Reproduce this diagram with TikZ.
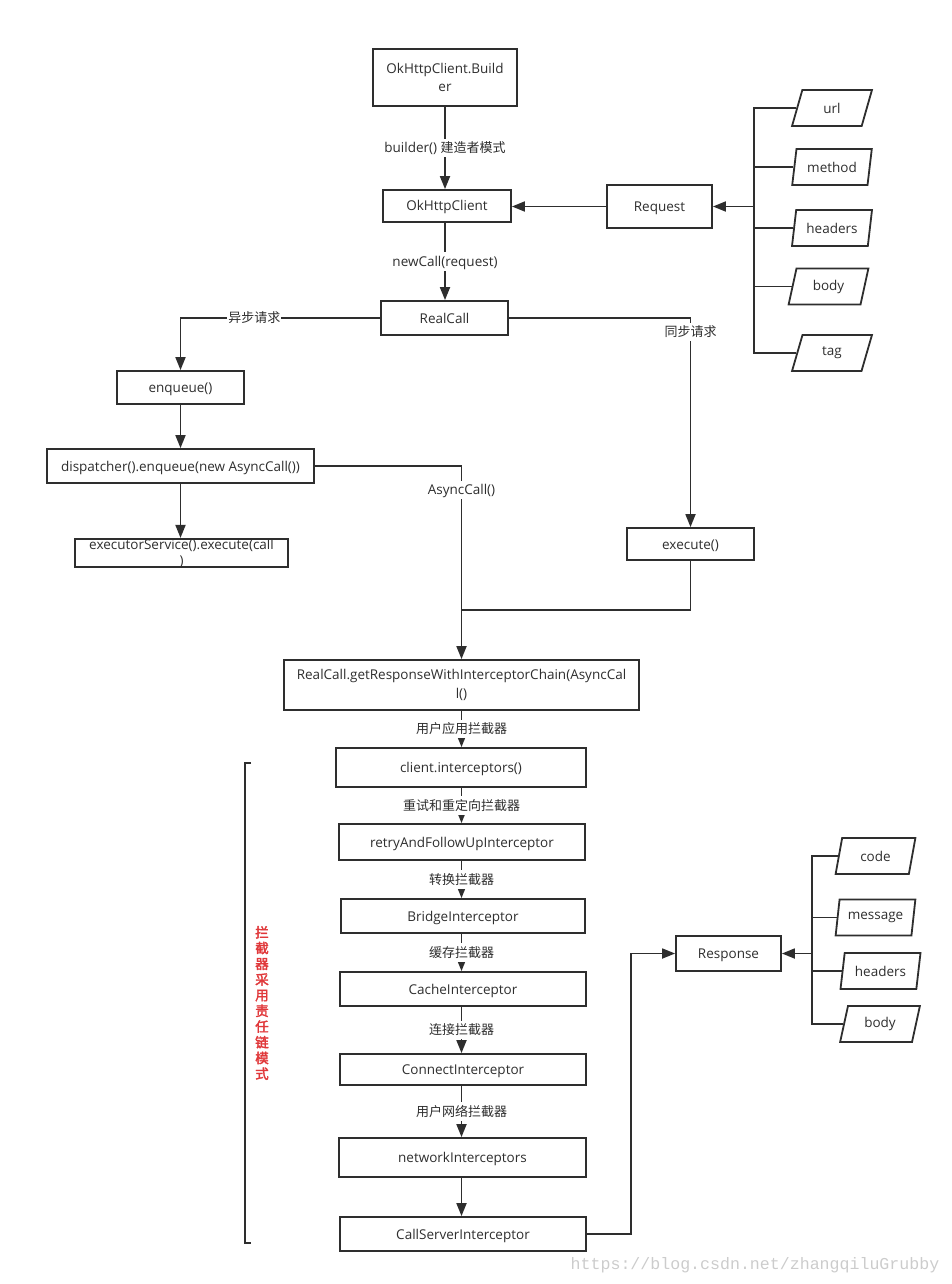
\documentclass[tikz,border=0pt]{standalone}
\usepackage{fontspec}
\setmainfont{Open Sans}
\newfontfamily\cjkfam{Noto Sans CJK SC}
\newfontfamily\cjkbold[FakeBold=2.5]{Noto Sans CJK SC}
\newfontfamily\wmfont{Liberation Mono}
\newcommand\zhs[1]{{\cjkfam\fontsize{13}{15}\selectfont #1}}
\usetikzlibrary{arrows.meta,shapes.geometric}
\definecolor{ink}{HTML}{2E2E2E}
\definecolor{redt}{HTML}{E0383A}
\begin{document}
\begin{tikzpicture}[x=1pt,y=-1pt,
 mbox/.style={draw=ink,line width=1.8pt,inner sep=0pt,align=center,text=ink,font=\fontsize{13.5}{18}\selectfont},
 box/.style={mbox,text height=13.5pt,text depth=3.5pt},
 par/.style={draw=ink,line width=1.8pt,shape=trapezium,trapezium left angle=74,trapezium right angle=106,trapezium stretches=true,minimum width=80pt,minimum height=36pt,inner sep=0pt,text=ink,font=\fontsize{13.5}{15}\selectfont},
 arr/.style={draw=ink,line width=1.8pt,-{Triangle[length=13pt,width=10pt]}},
 ln/.style={draw=ink,line width=1.8pt},
 pln/.style={draw=ink,line width=1.6pt},
 lbl/.style={fill=white,inner sep=1pt,text=ink,text height=13pt,text depth=3.5pt,font=\fontsize{13.5}{15}\selectfont},
]
\useasboundingbox (0,0) rectangle (951,1284);
% main boxes
\node[mbox,minimum width=144pt,minimum height=57pt] (builder) at (445,77.5) {OkHttpClient.Build\\er};
\node[box,minimum width=128pt,minimum height=32pt] (client) at (447,206) {OkHttpClient};
\node[box,minimum width=105pt,minimum height=43pt] (request) at (659.5,206.5) {Request};
\node[box,minimum width=127pt,minimum height=34pt] (realcall) at (444.5,318) {RealCall};
\node[box,minimum width=127pt,minimum height=33pt] (enqueue) at (180.5,387.5) {enqueue()};
\node[box,minimum width=267pt,minimum height=34pt] (dispatcher) at (180.5,466) {dispatcher().enqueue(new AsyncCall())};
\node[mbox,minimum width=213pt,minimum height=28pt,font=\fontsize{13.5}{16}\selectfont] (executor) at (181.5,553) {executorService().execute(call\\)};
\node[box,minimum width=127pt,minimum height=32pt] (execute) at (690.5,544) {execute()};
\node[mbox,minimum width=355pt,minimum height=50pt,font=\fontsize{13.5}{19}\selectfont] (chain) at (461.5,685) {RealCall.getResponseWithInterceptorChain(AsyncCal\\l()};
\node[box,minimum width=250pt,minimum height=39pt] (ci) at (461,767.5) {client.interceptors()};
\node[box,minimum width=246pt,minimum height=36pt] (retry) at (462,842) {retryAndFollowUpInterceptor};
\node[box,minimum width=244pt,minimum height=34pt] (bridge) at (463,916) {BridgeInterceptor};
\node[box,minimum width=246pt,minimum height=34pt] (cache) at (463,989) {CacheInterceptor};
\node[box,minimum width=246pt,minimum height=31pt] (connect) at (463,1069.5) {ConnectInterceptor};
\node[box,minimum width=247pt,minimum height=39pt] (network) at (462.5,1157.5) {networkInterceptors};
\node[box,minimum width=246pt,minimum height=34pt] (callserver) at (463,1234) {CallServerInterceptor};
\node[box,minimum width=105pt,minimum height=35pt] (response) at (728.5,953.5) {Response};
% request params
\node[par] (url) at (832,108) {url};
\node[par] (method) at (832,167) {method};
\node[par] (rheaders) at (832,228) {headers};
\node[par] (rbody) at (828.5,286.5) {body};
\node[par] (tag) at (832,353) {tag};
% response params
\node[par] (code) at (875.5,856) {code};
\node[par] (message) at (875.5,917.5) {message};
\node[par] (sheaders) at (880.5,971) {headers};
\node[par] (sbody) at (880,1024) {body};
% helper coordinates
\coordinate (rbus) at (754,206.5);
\coordinate (sbus) at (812,953.5);
\coordinate (jn) at (461.5,610);
\coordinate (rturn) at (631,953.5);
% connectors top
\draw[arr] (builder.south) -- node[lbl]{builder() \zhs{建造者模式}} (builder.south |- client.north);
\draw[arr] (request.west) -- (request.west -| client.east);
\draw[arr] (rbus) -- (request.east);
\foreach \p in {url,method,rheaders,rbody,tag}{\draw[pln] (\p.west) -| (rbus);}
\draw[arr] (builder.south |- client.south) -- node[lbl]{newCall(request)} (builder.south |- realcall.north);
\draw[arr] (realcall.west) -| node[lbl,pos=0.315]{\zhs{异步请求}} (enqueue.north);
\draw[arr] (realcall.east) -| node[lbl,pos=0.533]{\zhs{同步请求}} (execute.north);
\draw[arr] (enqueue.south) -- (enqueue.south |- dispatcher.north);
\draw[arr] (dispatcher.south) -- (dispatcher.south |- executor.north);
\draw[arr] (dispatcher.east) -| node[lbl,pos=0.562]{AsyncCall()} (chain.north);
\draw[ln] (execute.south) |- (jn);
% chain
\draw[arr] (chain.south) -- node[lbl]{\zhs{用户应用拦截器}} (chain.south |- ci.north);
\draw[arr] (chain.south |- ci.south) -- node[lbl]{\zhs{重试和重定向拦截器}} (chain.south |- retry.north);
\draw[arr] (chain.south |- retry.south) -- node[lbl]{\zhs{转换拦截器}} (chain.south |- bridge.north);
\draw[arr] (chain.south |- bridge.south) -- node[lbl]{\zhs{缓存拦截器}} (chain.south |- cache.north);
\draw[arr] (chain.south |- cache.south) -- node[lbl]{\zhs{连接拦截器}} (chain.south |- connect.north);
\draw[arr] (chain.south |- connect.south) -- node[lbl]{\zhs{用户网络拦截器}} (chain.south |- network.north);
\draw[arr] (chain.south |- network.south) -- (chain.south |- callserver.north);
% response
\draw[arr] (callserver.east) -| (rturn) -- (response.west);
\draw[arr] (sbus) -- (response.east);
\foreach \p in {code,message,sheaders,sbody}{\draw[pln] (\p.west) -| (sbus);}
% bracket
\draw[ln] (251,763) -- (245,763) -- (245,1243) -- (251,1243);
\node[text=redt,align=center,inner sep=0pt,font=\cjkbold\fontsize{13.5}{15.7}\selectfont] (brnote) at (262,1003) {拦\\截\\器\\采\\用\\责\\任\\链\\模\\式};
% watermark
\node[text=black!20,inner sep=0pt,font=\wmfont\fontsize{16.6}{18}\selectfont] (wm) at (755,1265) {https://blog.csdn.net/zhangqiluGrubby};
\end{tikzpicture}
\end{document}
